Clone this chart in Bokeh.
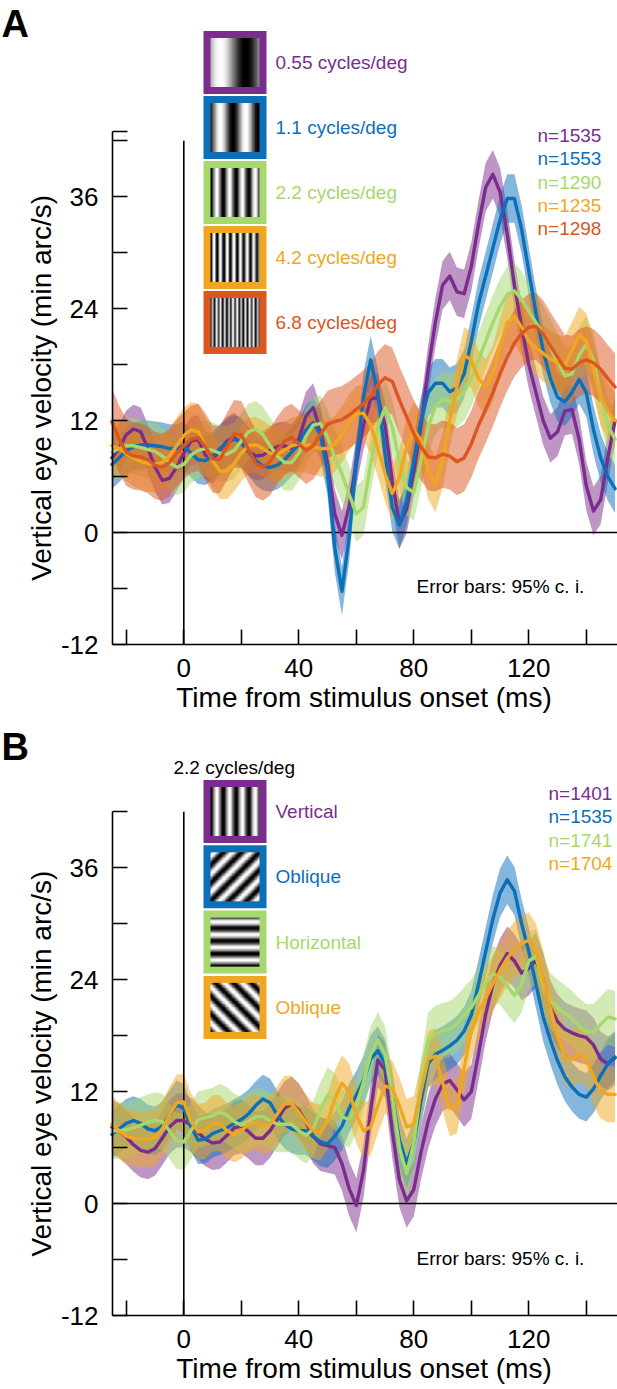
import numpy as np
from bokeh.plotting import figure
from bokeh.models import Label, FixedTicker, Range1d
from bokeh.layouts import column
from bokeh.embed import file_html
from bokeh.resources import INLINE
from bokeh.palettes import Greys256

FONT = "Liberation Sans"

# ---------------- data ----------------
time_ms = np.arange(-25.0, 150.01, 2.5)   # sample times (ms)

# Panel A: spatial frequency (mean vertical eye velocity, min arc/s)
a_labels = ["0.55 cycles/deg", "1.1 cycles/deg", "2.2 cycles/deg", "4.2 cycles/deg", "6.8 cycles/deg"]
a_counts = ["n=1535", "n=1553", "n=1290", "n=1235", "n=1298"]
a_mean_055 = [8.0, 9.0, 10.5, 11.1, 10.8, 9.0, 7.0, 5.6, 5.8, 7.0,
              8.5, 9.8, 10.0, 8.3, 7.8, 8.8, 9.8, 10.2, 9.6, 8.7,
              8.2, 8.3, 8.8, 9.2, 9.3, 9.0, 10.0, 12.5, 13.4, 11.0,
              7.5, 2.0, -0.3, 2.8, 7.5, 11.5, 14.3, 14.5, 11.5, 5.5,
              0.9, 2.5, 6.5, 11.5, 17.5, 22.5, 26.5, 27.5, 25.8, 25.6,
              28.5, 33.0, 37.0, 38.4, 36.5, 32.0, 26.5, 22.0, 18.0, 15.0,
              12.0, 10.1, 10.8, 13.0, 13.2, 10.0, 5.0, 2.3, 3.5, 8.0,
              12.0]
a_mean_11 = [7.3, 8.0, 8.8, 9.2, 9.4, 9.4, 9.3, 9.2, 9.0, 9.0,
             9.3, 8.5, 7.8, 7.7, 8.2, 9.0, 9.6, 10.0, 9.7, 8.7,
             7.7, 7.1, 7.0, 7.2, 7.8, 8.6, 9.5, 11.0, 11.8, 10.5,
             6.5, -1.6, -6.3, -0.5, 7.7, 14.5, 18.5, 14.9, 8.4, 2.7,
             0.8, 3.4, 7.7, 12.0, 15.0, 16.0, 16.0, 15.1, 15.5, 17.0,
             20.5, 24.5, 27.5, 30.5, 33.5, 35.8, 35.8, 32.5, 28.0, 23.5,
             19.5, 16.5, 14.5, 14.0, 15.0, 16.4, 15.0, 11.0, 8.0, 6.0,
             4.7]
a_mean_22 = [8.6, 9.0, 9.3, 9.3, 9.1, 8.9, 8.7, 8.2, 7.5, 7.0,
             7.3, 8.3, 8.8, 9.0, 8.8, 8.5, 8.4, 8.8, 9.8, 10.8,
             11.1, 10.5, 9.3, 8.2, 7.5, 7.5, 8.5, 10.3, 11.5, 11.7,
             10.2, 8.1, 6.3, 4.1, 2.0, 2.7, 7.4, 11.3, 13.4, 11.3,
             7.7, 4.8, 4.3, 7.7, 11.3, 13.5, 14.3, 14.0, 14.3, 15.0,
             16.5, 18.5, 20.5, 22.5, 24.2, 25.5, 25.9, 25.0, 23.7, 22.5,
             21.3, 19.9, 18.3, 16.8, 17.0, 19.0, 20.2, 18.5, 14.5, 11.5,
             10.0]
a_mean_42 = [9.3, 9.0, 8.5, 8.0, 7.6, 7.4, 7.3, 7.5, 8.2, 9.3,
             10.4, 11.0, 10.8, 9.3, 7.7, 6.6, 6.6, 7.4, 8.5, 9.3,
             9.4, 9.0, 8.5, 8.4, 8.8, 9.3, 9.5, 9.4, 9.2, 9.0,
             9.0, 9.5, 10.5, 11.8, 12.7, 12.8, 11.5, 9.0, 6.3, 4.2,
             5.9, 9.2, 11.0, 9.9, 6.6, 5.2, 7.7, 12.0, 15.6, 19.0,
             18.5, 16.5, 15.6, 17.0, 20.0, 22.5, 23.2, 22.0, 20.5, 19.8,
             19.2, 18.6, 18.2, 18.0, 19.5, 21.2, 20.5, 17.5, 14.5, 13.0,
             12.0]
a_mean_68 = [11.9, 10.0, 8.6, 8.2, 8.1, 7.8, 7.2, 7.0, 7.5, 8.5,
             9.3, 10.0, 10.2, 9.2, 7.9, 7.8, 9.2, 10.6, 10.5, 8.9,
             7.4, 7.0, 7.6, 8.8, 9.8, 10.2, 9.5, 8.8, 9.3, 10.5,
             11.6, 11.9, 12.1, 12.6, 13.2, 13.8, 14.6, 15.8, 16.6, 16.2,
             14.2, 12.4, 10.6, 9.2, 8.1, 8.0, 8.4, 8.2, 7.6, 8.0,
             9.5, 11.5, 13.2, 15.0, 17.0, 18.8, 20.3, 21.3, 22.0, 22.1,
             21.3, 20.0, 18.8, 17.6, 17.5, 18.2, 18.5, 18.2, 17.5, 16.5,
             15.6]
a_ci_half = [2.6, 2.6, 3.0, 3.0, 3.6]
a_grating_cycles = [0.96, 1.93, 3.85, 7.35, 11.9]
a_grating_white = [0.2, 0.2, 0.13, 0.07, 0.04]

# Panel B: orientation at 2.2 cycles/deg
b_labels = ["Vertical", "Oblique", "Horizontal", "Oblique"]
b_counts = ["n=1401", "n=1535", "n=1741", "n=1704"]
b_mean_vert = [8.2, 7.8, 7.1, 6.3, 5.7, 5.5, 5.9, 7.0, 8.2, 8.9,
               8.9, 8.4, 7.6, 6.9, 6.5, 6.6, 7.3, 8.1, 8.3, 7.7,
               7.0, 7.0, 7.8, 9.0, 10.2, 10.7, 10.0, 8.7, 7.2, 6.4,
               6.2, 6.0, 4.3, 1.6, -0.2, 3.5, 10.0, 15.4, 14.3, 7.8,
               2.5, 0.3, 1.5, 5.5, 8.8, 11.2, 12.8, 13.2, 12.2, 11.1,
               12.0, 16.0, 20.3, 23.5, 25.5, 26.8, 26.0, 24.7, 25.2, 26.1,
               24.0, 21.0, 19.5, 18.7, 18.3, 18.0, 17.8, 17.0, 15.5, 15.0,
               15.6]
b_mean_obl45 = [7.4, 8.0, 8.6, 8.9, 8.6, 8.0, 7.8, 8.3, 9.5, 10.6,
                10.2, 8.2, 6.8, 6.9, 7.5, 7.8, 8.1, 8.6, 9.0, 9.6,
                10.5, 11.2, 10.8, 9.5, 8.5, 8.0, 7.8, 7.8, 7.2, 6.6,
                6.4, 7.2, 8.3, 10.2, 11.6, 13.2, 15.5, 16.4, 15.0, 11.5,
                6.8, 4.3, 6.5, 11.0, 15.0, 16.0, 16.4, 16.9, 17.5, 18.5,
                20.2, 23.5, 27.0, 30.5, 33.3, 34.7, 33.5, 30.0, 27.0, 23.5,
                20.0, 17.5, 15.3, 13.6, 12.5, 11.7, 11.4, 12.3, 13.7, 15.0,
                15.7]
b_mean_horz = [7.8, 7.8, 7.9, 8.1, 8.4, 8.7, 8.9, 8.8, 7.8, 6.7,
               6.6, 7.8, 9.0, 9.2, 9.4, 9.8, 9.5, 8.8, 8.4, 8.8,
               9.3, 9.3, 8.9, 8.5, 8.5, 8.5, 7.8, 7.3, 8.0, 10.0,
               11.6, 11.0, 9.3, 9.0, 10.5, 13.0, 16.0, 17.5, 16.0, 11.5,
               6.0, 3.2, 6.5, 12.5, 17.5, 18.2, 18.5, 18.7, 19.3, 20.2,
               21.0, 22.3, 23.7, 24.6, 24.3, 23.3, 22.3, 23.5, 26.0, 26.5,
               23.5, 21.7, 21.0, 20.4, 19.8, 19.0, 18.4, 18.4, 19.2, 20.0,
               19.8]
b_mean_obl135 = [8.5, 7.8, 7.2, 7.0, 6.9, 6.9, 7.1, 8.0, 9.5, 10.8,
                 10.9, 8.8, 7.7, 7.8, 8.6, 8.6, 7.8, 7.4, 7.8, 8.5,
                 8.7, 8.3, 8.5, 9.6, 10.7, 10.7, 9.8, 8.7, 7.8, 7.6,
                 8.8, 11.2, 12.9, 12.0, 9.5, 7.8, 8.2, 10.5, 12.6, 12.3,
                 10.5, 8.2, 8.5, 12.0, 15.5, 15.8, 13.0, 10.2, 10.5, 14.5,
                 18.5, 20.5, 22.0, 23.6, 25.0, 26.3, 27.2, 27.9, 28.2, 27.0,
                 24.0, 21.0, 18.0, 15.7, 15.4, 16.0, 15.5, 13.5, 12.1, 11.7,
                 11.7]
b_ci_half = [2.9, 2.6, 3.0, 3.0]
b_grating_angle = [0, -45, 90, 45]   # direction of luminance modulation
b_grating_cycles = 3.85

y_ticks = [-12, -6, 0, 6, 12, 18, 24, 30, 36, 42]
y_tick_text = {-12: "-12", 0: "0", 12: "12", 24: "24", 36: "36"}
x_ticks = [-20, 0, 20, 40, 60, 80, 100, 120, 140]
x_tick_text = {0: "0", 40: "40", 80: "80", 120: "120"}

COLORS = ["#7B2D8E", "#0B6FBA", "#A6D86B", "#EFA722", "#DC5620"]
X_LABEL = "Time from stimulus onset (ms)"
Y_LABEL = "Vertical eye velocity (min arc/s)"

# ---------------- geometry ----------------
PX_X = 2.875                     # px per ms
PX_Y = 9.33                      # px per (min arc/s)
X_ZERO_PX = 183.3                # pixel column of t = 0
X_MIN = -X_ZERO_PX / PX_X        # left edge of canvas
X_MAX = X_MIN + 617 / PX_X
X_AXIS, Y_AXIS = -24.8, -12


def tx(px):                      # canvas column -> ms
    return (px - X_ZERO_PX) / PX_X


def grating(cycles, angle_deg, white, n=64):
    u = (np.arange(n) + 0.5) / n
    X, Y = np.meshgrid(u, u)
    th = np.deg2rad(angle_deg)
    s = X * np.cos(th) + Y * np.sin(th)
    return 0.5 + 0.5 * np.cos(2 * np.pi * cycles * (s - white))


def add_text(p, x, y, text, color="black", size="19px", style="normal", align="left", angle=0.0):
    p.add_layout(Label(x=x, y=y, text=text, text_color=color, text_font=FONT,
                       text_font_size=size, text_baseline="middle", text_align=align,
                       text_font_style=style, angle=angle))


def make_panel(height, axis_px, axis_top, means, halfs, colors):
    """axis_px: canvas row of the x axis (y = -12)."""
    vy = lambda py: Y_AXIS + (axis_px - py) / PX_Y          # canvas row -> value
    p = figure(width=617, height=height,
               x_range=Range1d(X_MIN, X_MAX), y_range=Range1d(vy(height), vy(0)),
               output_backend="svg", toolbar_location=None,
               min_border=0, min_border_left=0, min_border_right=0,
               min_border_top=0, min_border_bottom=0)
    p.xgrid.visible = False
    p.ygrid.visible = False
    p.outline_line_color = None
    p.background_fill_color = "white"
    p.border_fill_color = "white"

    for m, h, c in zip(means, halfs, colors):
        m = np.asarray(m)
        p.varea(x=time_ms, y1=m - h, y2=m + h, fill_color=c, fill_alpha=0.5)
    p.segment(x0=[X_AXIS, 0], y0=[0, Y_AXIS], x1=[X_MAX, 0], y1=[0, 42],
              line_color="black", line_width=1.6)
    for m, c in zip(means, colors):
        p.line(time_ms, m, line_color=c, line_width=3.4, line_join="round", line_cap="round")

    xa = p.xaxis[0]
    xa.fixed_location = Y_AXIS
    xa.bounds = (X_AXIS, X_MAX)
    xa.ticker = FixedTicker(ticks=x_ticks, minor_ticks=[])
    xa.major_label_overrides = {t: x_tick_text.get(t, "") for t in x_ticks}
    ya = p.yaxis[0]
    ya.fixed_location = X_AXIS
    ya.bounds = (Y_AXIS, axis_top)
    ya.ticker = FixedTicker(ticks=y_ticks + ([axis_top] if axis_top not in y_ticks else []),
                            minor_ticks=[])
    ov = {t: y_tick_text.get(t, "") for t in y_ticks}
    ov[axis_top] = y_tick_text.get(axis_top, "")
    ya.major_label_overrides = ov
    for ax in (xa, ya):
        ax.axis_line_width = 1.6
        ax.major_tick_line_width = 1.6
        ax.major_tick_in = 15
        ax.major_tick_out = 0
        ax.minor_tick_line_color = None
        ax.major_label_text_font = FONT
        ax.major_label_text_font_size = "26px"
        ax.major_label_text_color = "black"
    xa.major_label_standoff = 14
    ya.major_label_standoff = 14

    add_text(p, tx(363.5), vy(axis_px + 53), X_LABEL, "black", "28px", align="center")
    add_text(p, tx(40.5), (axis_top + Y_AXIS) / 2, Y_LABEL, "black", "28px", align="center",
             angle=np.pi / 2)
    return p, vy


SQ_X = tx(234.5)          # legend icon centre (ms)
ICON_W = 49 / PX_X        # inner grating width (ms)
ICON_H = 49 / PX_Y

# ---------------- panel A ----------------
a_means = [a_mean_055, a_mean_11, a_mean_22, a_mean_42, a_mean_68]
pA, vA = make_panel(721, 644, 43, a_means, a_ci_half, COLORS)
for i, (lab, c) in enumerate(zip(a_labels, COLORS)):
    cy = vA(62 + 65 * i)
    pA.rect(x=[SQ_X], y=[cy], width=63, height=63, width_units="screen", height_units="screen",
            fill_color=c, line_color=None)
    img = grating(a_grating_cycles[i], 0, a_grating_white[i])
    pA.image(image=[img], x=SQ_X - ICON_W / 2, y=cy - ICON_H / 2, dw=ICON_W, dh=ICON_H,
             palette=Greys256)
    add_text(pA, tx(275), cy, lab, c)
for i, (n, c) in enumerate(zip(a_counts, COLORS)):
    add_text(pA, tx(537), vA(135 + 23.3 * i), n, c)
add_text(pA, tx(416), vA(585.5), "Error bars: 95% c. i.", "black", "19px")
add_text(pA, tx(1), vA(23), "A", "black", "38px", "bold")

# ---------------- panel B ----------------
b_means = [b_mean_vert, b_mean_obl45, b_mean_horz, b_mean_obl135]
pB, vB = make_panel(667, 594, 42, b_means, b_ci_half, COLORS[:4])
for i, (lab, c) in enumerate(zip(b_labels, COLORS)):
    cy = vB(90 + 65.3 * i)
    pB.rect(x=[SQ_X], y=[cy], width=63, height=63, width_units="screen", height_units="screen",
            fill_color=c, line_color=None)
    img = grating(b_grating_cycles, b_grating_angle[i], 0.13)
    pB.image(image=[img], x=SQ_X - ICON_W / 2, y=cy - ICON_H / 2, dw=ICON_W, dh=ICON_H,
             palette=Greys256)
    add_text(pB, tx(275), cy, lab, c)
for i, (n, c) in enumerate(zip(b_counts, COLORS)):
    add_text(pB, tx(548), vB(72 + 23.3 * i), n, c)
add_text(pB, tx(173), vB(46), "2.2 cycles/deg", "black", "19px")
add_text(pB, tx(416), vB(537), "Error bars: 95% c. i.", "black", "19px")
add_text(pB, tx(1), vB(25.5), "B", "black", "38px", "bold")

layout = column(pA, pB)
open("out.html", "w").write(file_html(layout, INLINE))
